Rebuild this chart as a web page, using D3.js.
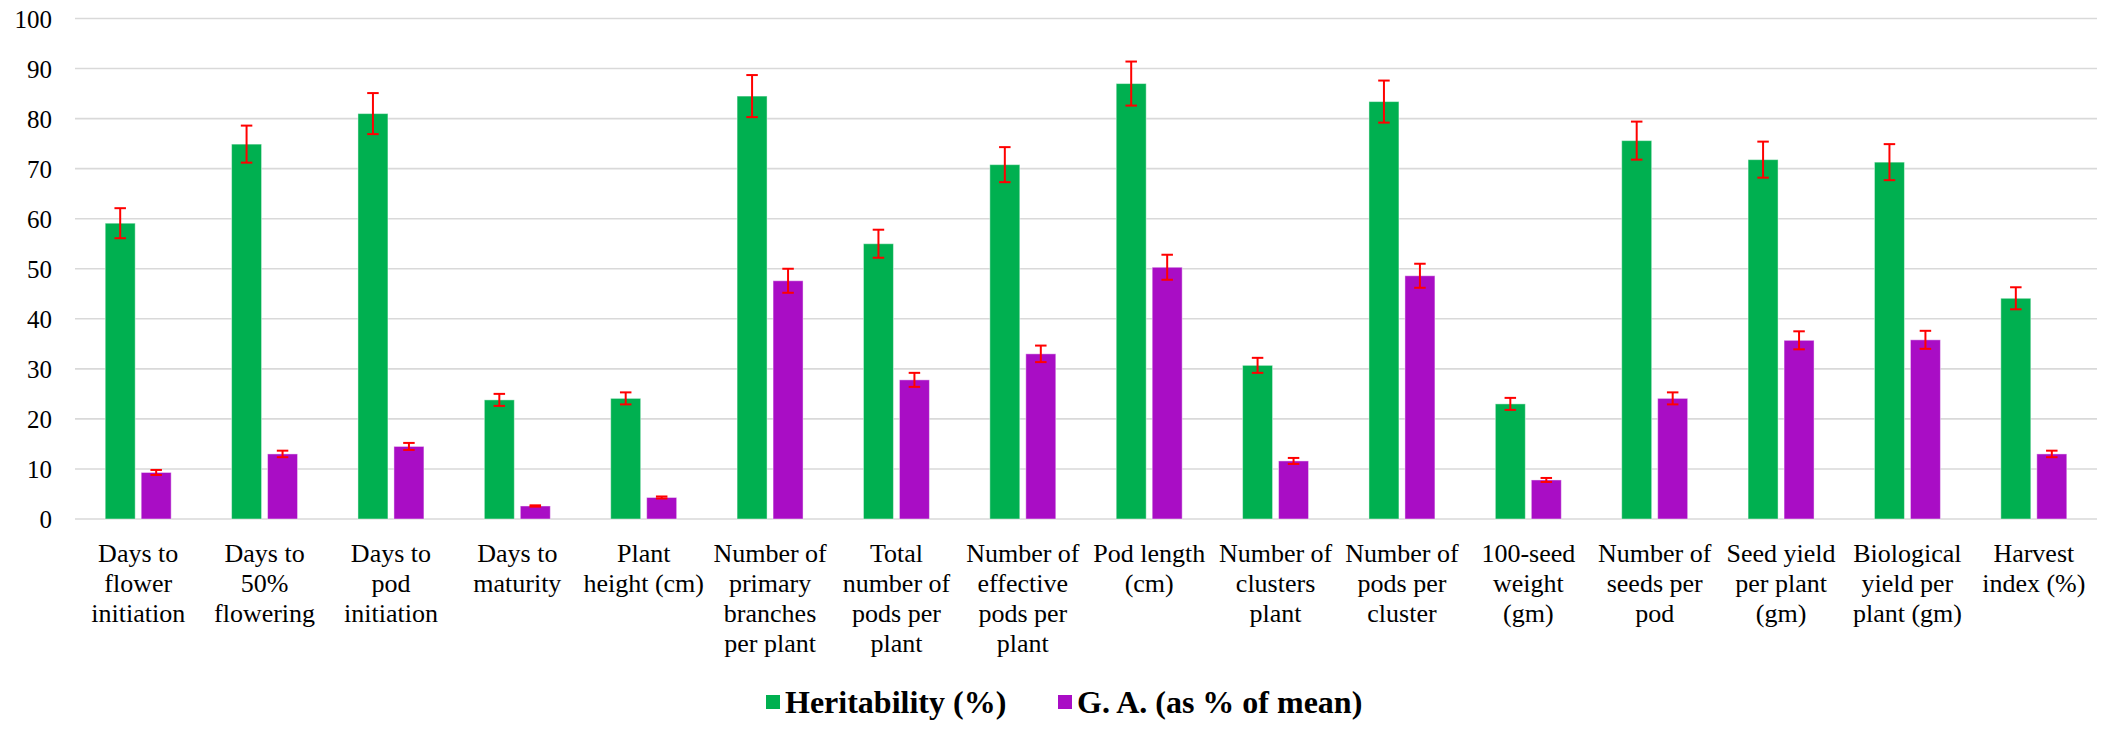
<!DOCTYPE html>
<html lang="en">
<head>
  <meta charset="UTF-8">
  <title>Heritability and genetic advance</title>
  <style type="text/css">
    body{
      margin: 0;
      background: #fff;
    }
    svg text{
      font-family: "Liberation Serif", "Times New Roman", "DejaVu Serif", serif;
    }
    .axis text{
      font-size: 25px;
      fill: #000;
    }
    .grid line{
      stroke: #d9d9d9;
      stroke-width: 1.6px;
    }
    .cat text{
      font-size: 26px;
      fill: #000;
    }
    .legend text{
      font-size: 32px;
      font-weight: bold;
      fill: #000;
    }
    .err line{
      stroke: #ff0000;
      stroke-width: 2px;
    }
  </style>
  <script type="text/javascript" src="https://d3js.org/d3.v7.min.js"></script>
</head>
<body>
<script type="text/javascript">
  var categories = [
    ['Days to', 'flower', 'initiation'],
    ['Days to', '50%', 'flowering'],
    ['Days to', 'pod', 'initiation'],
    ['Days to', 'maturity'],
    ['Plant', 'height (cm)'],
    ['Number of', 'primary', 'branches', 'per plant'],
    ['Total', 'number of', 'pods per', 'plant'],
    ['Number of', 'effective', 'pods per', 'plant'],
    ['Pod length', '(cm)'],
    ['Number of', 'clusters', 'plant'],
    ['Number of', 'pods per', 'cluster'],
    ['100-seed', 'weight', '(gm)'],
    ['Number of', 'seeds per', 'pod'],
    ['Seed yield', 'per plant', '(gm)'],
    ['Biological', 'yield per', 'plant (gm)'],
    ['Harvest', 'index (%)']
  ];
  var seriesNames = ['Heritability (%)', 'G. A. (as % of mean)'];
  var heritability = [59.1, 74.9, 81.0, 23.8, 24.1, 84.5, 55.0, 70.8, 87.0, 30.7, 83.4, 23.0, 75.6, 71.8, 71.3, 44.1];
  var geneticAdvance = [9.3, 13.0, 14.5, 2.6, 4.3, 47.6, 27.8, 33.0, 50.3, 11.6, 48.6, 7.8, 24.1, 35.7, 35.8, 13.0];
  var heritabilityErr = [3.0, 3.7, 4.1, 1.2, 1.2, 4.2, 2.8, 3.5, 4.4, 1.5, 4.2, 1.2, 3.8, 3.6, 3.6, 2.2];
  var geneticAdvanceErr = [0.5, 0.65, 0.7, 0.13, 0.2, 2.4, 1.4, 1.65, 2.5, 0.6, 2.4, 0.4, 1.2, 1.8, 1.8, 0.65];
  var yTicks = [0, 10, 20, 30, 40, 50, 60, 70, 80, 90, 100];
  var colors = ['#00b050', '#a90dc5'];

  var width = 2116, height = 740;
  var plot = {left: 75, right: 2097, top: 18.5, bottom: 519};

  var svg = d3.select('body')
    .append('svg')
    .attr('width', width)
    .attr('height', height);

  var idx = d3.range(categories.length);

  var x0 = d3.scaleBand()
    .domain(idx)
    .range([plot.left, plot.right]);

  var groupW = x0.bandwidth() * 0.522;
  var x1 = d3.scaleBand()
    .domain([0, 1])
    .range([(x0.bandwidth() - groupW) / 2, (x0.bandwidth() + groupW) / 2])
    .paddingInner(0.1667);

  var y = d3.scaleLinear()
    .domain([0, 100])
    .range([plot.bottom, plot.top]);

  // gridlines
  svg.append('g')
    .attr('class', 'grid')
    .selectAll('line')
    .data(yTicks)
    .enter().append('line')
    .attr('x1', plot.left)
    .attr('x2', plot.right)
    .attr('y1', function(d){ return y(d); })
    .attr('y2', function(d){ return y(d); });

  // y axis labels
  var yAxis = d3.axisLeft(y)
    .tickValues(yTicks)
    .tickSize(0)
    .tickPadding(0);

  var yg = svg.append('g')
    .attr('class', 'axis')
    .attr('transform', 'translate(52,0)')
    .call(yAxis);
  yg.attr('font-family', null).attr('font-size', null);
  yg.select('.domain').remove();
  yg.selectAll('text').attr('dy', '0.34em');

  var values = [heritability, geneticAdvance];
  var errs = [heritabilityErr, geneticAdvanceErr];

  var bars = [];
  idx.forEach(function(i){
    [0, 1].forEach(function(s){
      bars.push({i: i, s: s, v: values[s][i], e: errs[s][i]});
    });
  });

  svg.append('g')
    .selectAll('rect')
    .data(bars)
    .enter().append('rect')
    .attr('x', function(d){ return x0(d.i) + x1(d.s); })
    .attr('width', x1.bandwidth())
    .attr('y', function(d){ return y(d.v); })
    .attr('height', function(d){ return y(0) - y(d.v); })
    .attr('fill', function(d){ return colors[d.s]; })
    .attr('stroke', 'rgba(255,255,255,0.45)')
    .attr('stroke-width', 1);

  // error bars
  var capW = 11.5;
  var err = svg.append('g')
    .attr('class', 'err')
    .selectAll('g')
    .data(bars)
    .enter().append('g')
    .attr('transform', function(d){ return 'translate(' + (x0(d.i) + x1(d.s) + x1.bandwidth() / 2) + ',0)'; });

  err.append('line')
    .attr('x1', 0).attr('x2', 0)
    .attr('y1', function(d){ return y(d.v + d.e); })
    .attr('y2', function(d){ return y(d.v - d.e); });
  err.append('line')
    .attr('x1', -capW / 2).attr('x2', capW / 2)
    .attr('y1', function(d){ return y(d.v + d.e); })
    .attr('y2', function(d){ return y(d.v + d.e); });
  err.append('line')
    .attr('x1', -capW / 2).attr('x2', capW / 2)
    .attr('y1', function(d){ return y(d.v - d.e); })
    .attr('y2', function(d){ return y(d.v - d.e); });

  // category labels
  var lineH = 30;
  var cat = svg.append('g')
    .attr('class', 'cat')
    .selectAll('g')
    .data(categories)
    .enter().append('g')
    .attr('transform', function(d, i){ return 'translate(' + (x0(i) + x0.bandwidth() / 2) + ',553)'; });

  cat.selectAll('text')
    .data(function(d){ return d; })
    .enter().append('text')
    .attr('text-anchor', 'middle')
    .attr('y', function(d, j){ return j * lineH; })
    .attr('dy', '0.33em')
    .text(function(d){ return d; });

  // legend
  var legendItems = [{x: 766, name: seriesNames[0], c: colors[0]}, {x: 1058, name: seriesNames[1], c: colors[1]}];
  var legend = svg.append('g')
    .attr('class', 'legend')
    .selectAll('g')
    .data(legendItems)
    .enter().append('g')
    .attr('transform', function(d){ return 'translate(' + d.x + ',702)'; });

  legend.append('rect')
    .attr('x', 0)
    .attr('y', -7)
    .attr('width', 14)
    .attr('height', 14)
    .attr('fill', function(d){ return d.c; });

  legend.append('text')
    .attr('x', 19)
    .attr('dy', '0.33em')
    .text(function(d){ return d.name; });
</script>
</body>
</html>
